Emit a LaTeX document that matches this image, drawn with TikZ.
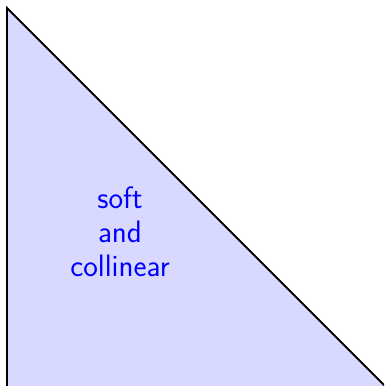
\documentclass[tikz,border=0pt]{standalone}
\begin{document}
\begin{tikzpicture}[x=1pt,y=-1pt,
  region/.style={fill=blue!15,draw=black,line width=1.8pt,line join=miter},
  lbl/.style={text=blue,font=\sffamily\fontsize{31}{34}\selectfont,align=center}]
\useasboundingbox (0,0) rectangle (384,386);
\clip (0,0) rectangle (384,386);
\coordinate (A) at (7,8);
\coordinate (B) at (7,392);
\coordinate (C) at (391,392);
\draw[region] (A) -- (B) -- (C) -- cycle;
\node[lbl] (t) at (120,231.5) {soft\\and\\collinear};
\end{tikzpicture}
\end{document}
